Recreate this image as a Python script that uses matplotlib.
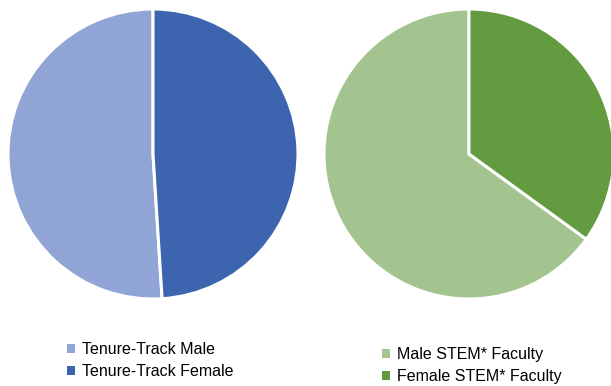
import matplotlib.pyplot as plt
from matplotlib.patches import Patch

plt.rcParams["font.family"] = ["Liberation Sans", "DejaVu Sans"]

tenure_labels = ["Tenure-Track Male", "Tenure-Track Female"]
tenure_share = [51, 49]
stem_labels = ["Male STEM* Faculty", "Female STEM* Faculty"]
stem_share = [65, 35]

blues = ["#91a4d6", "#3d64ae"]
greens = ["#a3c48f", "#629b40"]

W, H = 611, 386
fig = plt.figure(figsize=(W / 100, H / 100), dpi=100)
ax = fig.add_axes([0, 0, 1, 1])

wedge_style = dict(edgecolor="white", linewidth=2.2)
ax.pie(tenure_share, colors=blues, startangle=90, counterclock=True,
       center=(153, H - 154), radius=145, wedgeprops=wedge_style)
ax.pie(stem_share, colors=greens, startangle=90, counterclock=True,
       center=(469, H - 154), radius=145, wedgeprops=wedge_style)
ax.set_xlim(0, W)
ax.set_ylim(0, H)
ax.set_aspect("auto")
ax.axis("off")

# plain square keys, without the white wedge border
left_keys = [Patch(facecolor=c, edgecolor="none") for c in blues]
right_keys = [Patch(facecolor=c, edgecolor="none") for c in greens]

legend_style = dict(frameon=False, fontsize=11.5, handlelength=0.5, handleheight=0.5,
                    handletextpad=0.45, labelspacing=0.46, borderpad=0,
                    borderaxespad=0, loc="upper left")
leg1 = ax.legend(left_keys, tenure_labels, bbox_to_anchor=(67 / W, 1 - 342 / H), **legend_style)
ax.add_artist(leg1)
ax.legend(right_keys, stem_labels, bbox_to_anchor=(382 / W, 1 - 347 / H), **legend_style)

fig.savefig("out.png", dpi=100)
